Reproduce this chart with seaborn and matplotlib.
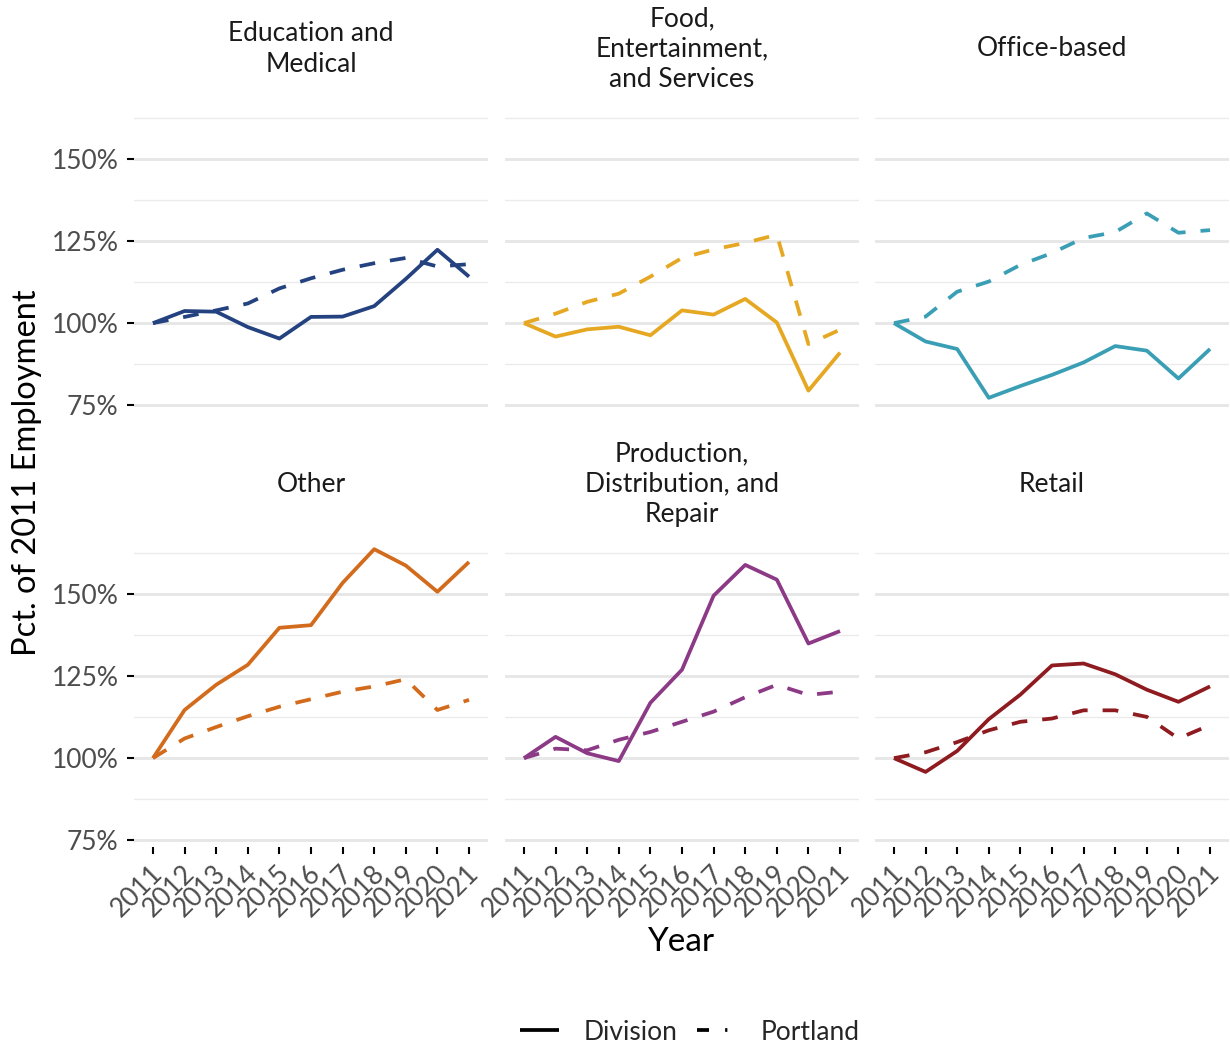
import numpy as np
import pandas as pd
import matplotlib
matplotlib.use("Agg")
import matplotlib.pyplot as plt
from matplotlib.lines import Line2D
from matplotlib.ticker import FuncFormatter
from matplotlib.transforms import ScaledTranslation
import seaborn as sns

years = [2011, 2012, 2013, 2014, 2015, 2016, 2017, 2018, 2019, 2020, 2021]
sectors = ["Education and\nMedical", "Food,\nEntertainment,\nand Services", "Office-based",
           "Other", "Production,\nDistribution, and\nRepair", "Retail"]
colors = ["#24427F", "#E6A823", "#3A9FB5", "#D36B1D", "#8C3A86", "#8E1B1F"]

edu_div = [100, 103.7, 103.5, 98.8, 95.3, 101.9, 102.0, 105.2, 113.5, 122.4, 114.2]
edu_pdx = [100, 101.9, 103.9, 106.0, 110.6, 113.7, 116.3, 118.3, 119.9, 117.3, 118.0]
food_div = [100, 95.9, 98.1, 98.9, 96.3, 103.9, 102.6, 107.4, 100.2, 79.4, 91.0]
food_pdx = [100, 102.9, 106.5, 109.0, 114.2, 119.9, 122.5, 124.5, 127.0, 93.6, 98.0]
office_div = [100, 94.4, 92.1, 77.2, 80.8, 84.2, 88.0, 93.0, 91.6, 83.1, 92.1]
office_pdx = [100, 102.0, 109.6, 112.7, 117.8, 121.4, 126.0, 127.8, 133.5, 127.6, 128.4]
other_div = [100, 114.7, 122.4, 128.5, 139.8, 140.6, 153.5, 163.8, 158.8, 150.8, 159.9]
other_pdx = [100, 106.0, 109.5, 112.8, 115.7, 118.0, 120.3, 121.9, 124.1, 114.7, 117.8]
prod_div = [100, 106.5, 101.5, 99.1, 116.9, 127.0, 149.6, 159.0, 154.5, 135.0, 138.8]
prod_pdx = [100, 102.9, 102.4, 105.6, 108.0, 111.1, 114.2, 118.6, 122.4, 119.3, 120.3]
retail_div = [100, 95.8, 102.2, 111.9, 119.4, 128.3, 128.9, 125.6, 120.9, 117.2, 121.9]
retail_pdx = [100, 101.8, 104.9, 108.5, 111.1, 112.1, 114.6, 114.6, 112.6, 106.0, 110.1]

division = [edu_div, food_div, office_div, other_div, prod_div, retail_div]
portland = [edu_pdx, food_pdx, office_pdx, other_pdx, prod_pdx, retail_pdx]

rows = []
for s, d, p in zip(sectors, division, portland):
    for i, y in enumerate(years):
        rows.append((s, i, y, "Division", d[i]))
        rows.append((s, i, y, "Portland", p[i]))
df = pd.DataFrame(rows, columns=["sector", "idx", "year", "series", "value"])

sns.set_theme(style="white")
plt.rcParams["font.family"] = ["Lato", "DejaVu Sans"]

W, H = 1230, 1048
fig = plt.figure(figsize=(W / 100, H / 100), dpi=100)

vmin, vmax = df["value"].min(), df["value"].max()
rng = vmax - vmin
ylim = (vmin - 0.05 * rng, vmax + 0.05 * rng)

col_left = [134, 505, 875]
col_w = 354
row_top = [100, 535]
row_h = 312
LW = 2.7
dash = (4.2, 4.0)
FS = 19

for k, sector in enumerate(sectors):
    r, c = divmod(k, 3)
    ax = fig.add_axes([col_left[c] / W, 1 - (row_top[r] + row_h) / H, col_w / W, row_h / H])
    ax.set_facecolor("white")
    for sp in ax.spines.values():
        sp.set_visible(False)
    sub = df[df["sector"] == sector]
    sns.lineplot(data=sub, x="idx", y="value", style="series",
                 dashes={"Division": "", "Portland": dash},
                 color=colors[k], linewidth=LW, legend=False, ax=ax)
    for ln in ax.get_lines():
        ln.set_dash_capstyle("butt")
        ln.set_solid_capstyle("butt")
    ax.set_xlim(-0.6, 10.6)
    ax.set_ylim(*ylim)
    ax.set_yticks([75, 100, 125, 150])
    ax.set_yticks([87.5, 112.5, 137.5, 162.5], minor=True)
    ax.grid(False)
    ax.grid(True, axis="y", which="major", color="#E6E6E6", linewidth=2.0)
    ax.grid(True, axis="y", which="minor", color="#EBEBEB", linewidth=1.0)
    ax.set_axisbelow(True)
    ax.yaxis.set_major_formatter(FuncFormatter(lambda v, p: f"{v:.0f}%"))
    ax.set_xlabel("")
    ax.set_ylabel("")
    ax.tick_params(axis="y", which="minor", length=0)
    if c == 0:
        ax.tick_params(axis="y", which="major", length=5, width=1.5, color="black",
                       labelsize=FS, labelcolor="#4D4D4D", pad=6, left=True)
    else:
        ax.tick_params(axis="y", which="major", left=False, labelleft=False)
    ax.set_xticks(range(len(years)))
    if r == 1:
        ax.set_xticklabels([str(y) for y in years], rotation=45, ha="right",
                           va="center", rotation_mode="anchor")
        ax.tick_params(axis="x", length=5, width=1.5, color="black", labelsize=FS,
                       labelcolor="#4D4D4D", pad=11, bottom=True)
        for lab in ax.get_xticklabels():
            lab.set_transform(lab.get_transform() + ScaledTranslation(0.06, 0, fig.dpi_scale_trans))
    else:
        ax.tick_params(axis="x", bottom=False, labelbottom=False)
    strip_y = [49, 484][r]
    fig.text((col_left[c] + col_w / 2) / W, 1 - strip_y / H, sector, ha="center",
             va="center", fontsize=FS, color="#1A1A1A", linespacing=1.27)

fig.text(27 / W, 1 - 473 / H, "Pct. of 2011 Employment", rotation=90, ha="center",
         va="center", fontsize=23.5, color="black")
fig.text(681 / W, 1 - 942 / H, "Year", ha="center", va="center", fontsize=24, color="black")

handles = [Line2D([], [], color="black", linewidth=LW, solid_capstyle="butt"),
           Line2D([], [], color="black", linewidth=LW, dashes=(3.2, 4.3, 0.6, 10), dash_capstyle="butt")]
fig.legend(handles, ["Division", "Portland"], loc="center",
           bbox_to_anchor=(690 / W, 1 - 1032 / H), ncol=2, frameon=False, fontsize=FS,
           handlelength=1.45, handletextpad=0.95, columnspacing=0.75)

fig.savefig("out.png", dpi=100, facecolor="white")
